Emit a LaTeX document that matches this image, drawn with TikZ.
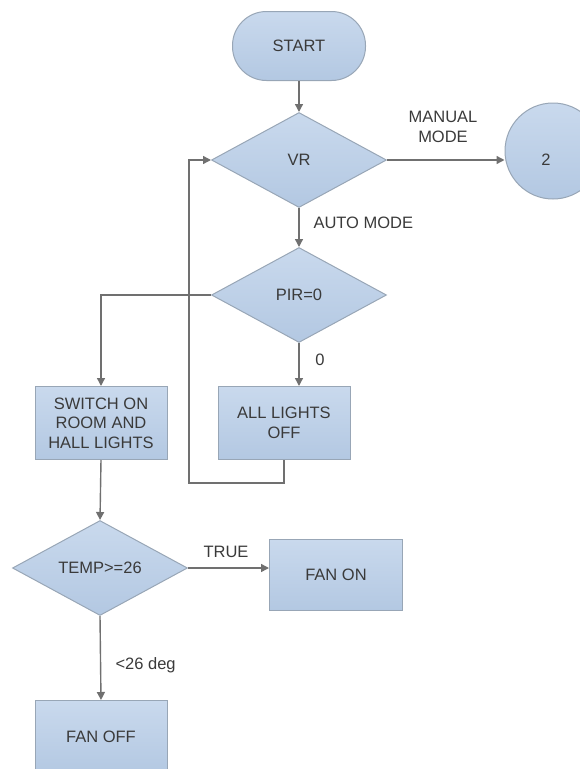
\documentclass[tikz,border=0pt]{standalone}
\usepackage{fontspec}
\setmainfont{Liberation Sans}
\usetikzlibrary{arrows.meta}
\usetikzlibrary{shapes.geometric}
\usetikzlibrary{calc,positioning}

\definecolor{boxfill}{HTML}{BDD0E8}
\definecolor{boxtop}{HTML}{C9D9ED}
\definecolor{boxbot}{HTML}{B3C8E2}
\definecolor{boxline}{HTML}{98A6B6}
\definecolor{flowline}{HTML}{707070}
\definecolor{txt}{HTML}{3A3A3A}

\begin{document}
\begin{tikzpicture}[x=1pt, y=-1pt, >={Triangle[length=8pt,width=8pt]},
    font=\fontsize{16.5}{19.5}\selectfont,
    every node/.style={text=txt},
    shaded/.style={draw=boxline, line width=1pt, top color=boxtop, bottom color=boxbot},
    procbox/.style={shaded, rectangle, minimum width=132pt, minimum height=73pt, align=center, inner sep=2pt},
    decision/.style={shaded, diamond, aspect=1.84, minimum width=175pt, minimum height=95pt, inner sep=0pt},
    terminal/.style={shaded, rectangle, rounded corners=34pt, minimum width=133pt, minimum height=69pt},
    connector/.style={shaded, circle, minimum size=96pt},
    flow/.style={->, draw=flowline, line width=1.4pt}]

    \useasboundingbox (0,0) rectangle (580,769);

    % shapes
    \node[terminal] (start) at (299,46) {START};
    \node[decision] (vr) at (299,160) {VR};
    \node[connector] (two) at (553,151) {};
    \node at (546,160) {2};
    \node[decision] (pir) at (299,295) {PIR=0};
    \node[procbox] (sw) at (101,423) {SWITCH ON\\ROOM AND\\HALL LIGHTS};
    \node[procbox] (off) at (284,423) {ALL LIGHTS\\OFF};
    \node[decision] (temp) at (100,568) {TEMP>=26};
    \node[procbox, minimum width=133pt, minimum height=71pt] (fanon) at (336,575) {FAN ON};
    \node[procbox] (fanoff) at (101,737) {FAN OFF};

    % connectors
    \draw[flow] (start.south) -- (vr.north);
    \draw[flow] (vr.east) -- (vr.east -| two.west);
    \node[align=center] at (443,127) {MANUAL\\MODE};

    \draw[flow] (vr.south) -- (pir.north);
    \node[anchor=west] at (310,223) {AUTO MODE};

    \draw[flow] (pir.west) -| (sw.north);
    \draw[flow] (pir.south) -- (pir.south |- off.north);
    \node at (320,360) {0};

    \coordinate (lp) at (189,483);
    \draw[flow] (off.south) |- (lp) |- (vr.west);

    \draw[flow] (sw.south) -- (temp.north);
    \draw[flow] (temp.east) -- (temp.east -| fanon.west);
    \node at (226,552) {TRUE};

    \draw[flow] (temp.south) -- (fanoff.north);
    \node[anchor=west] at (112,665) {<26 deg};

\end{tikzpicture}
\end{document}
